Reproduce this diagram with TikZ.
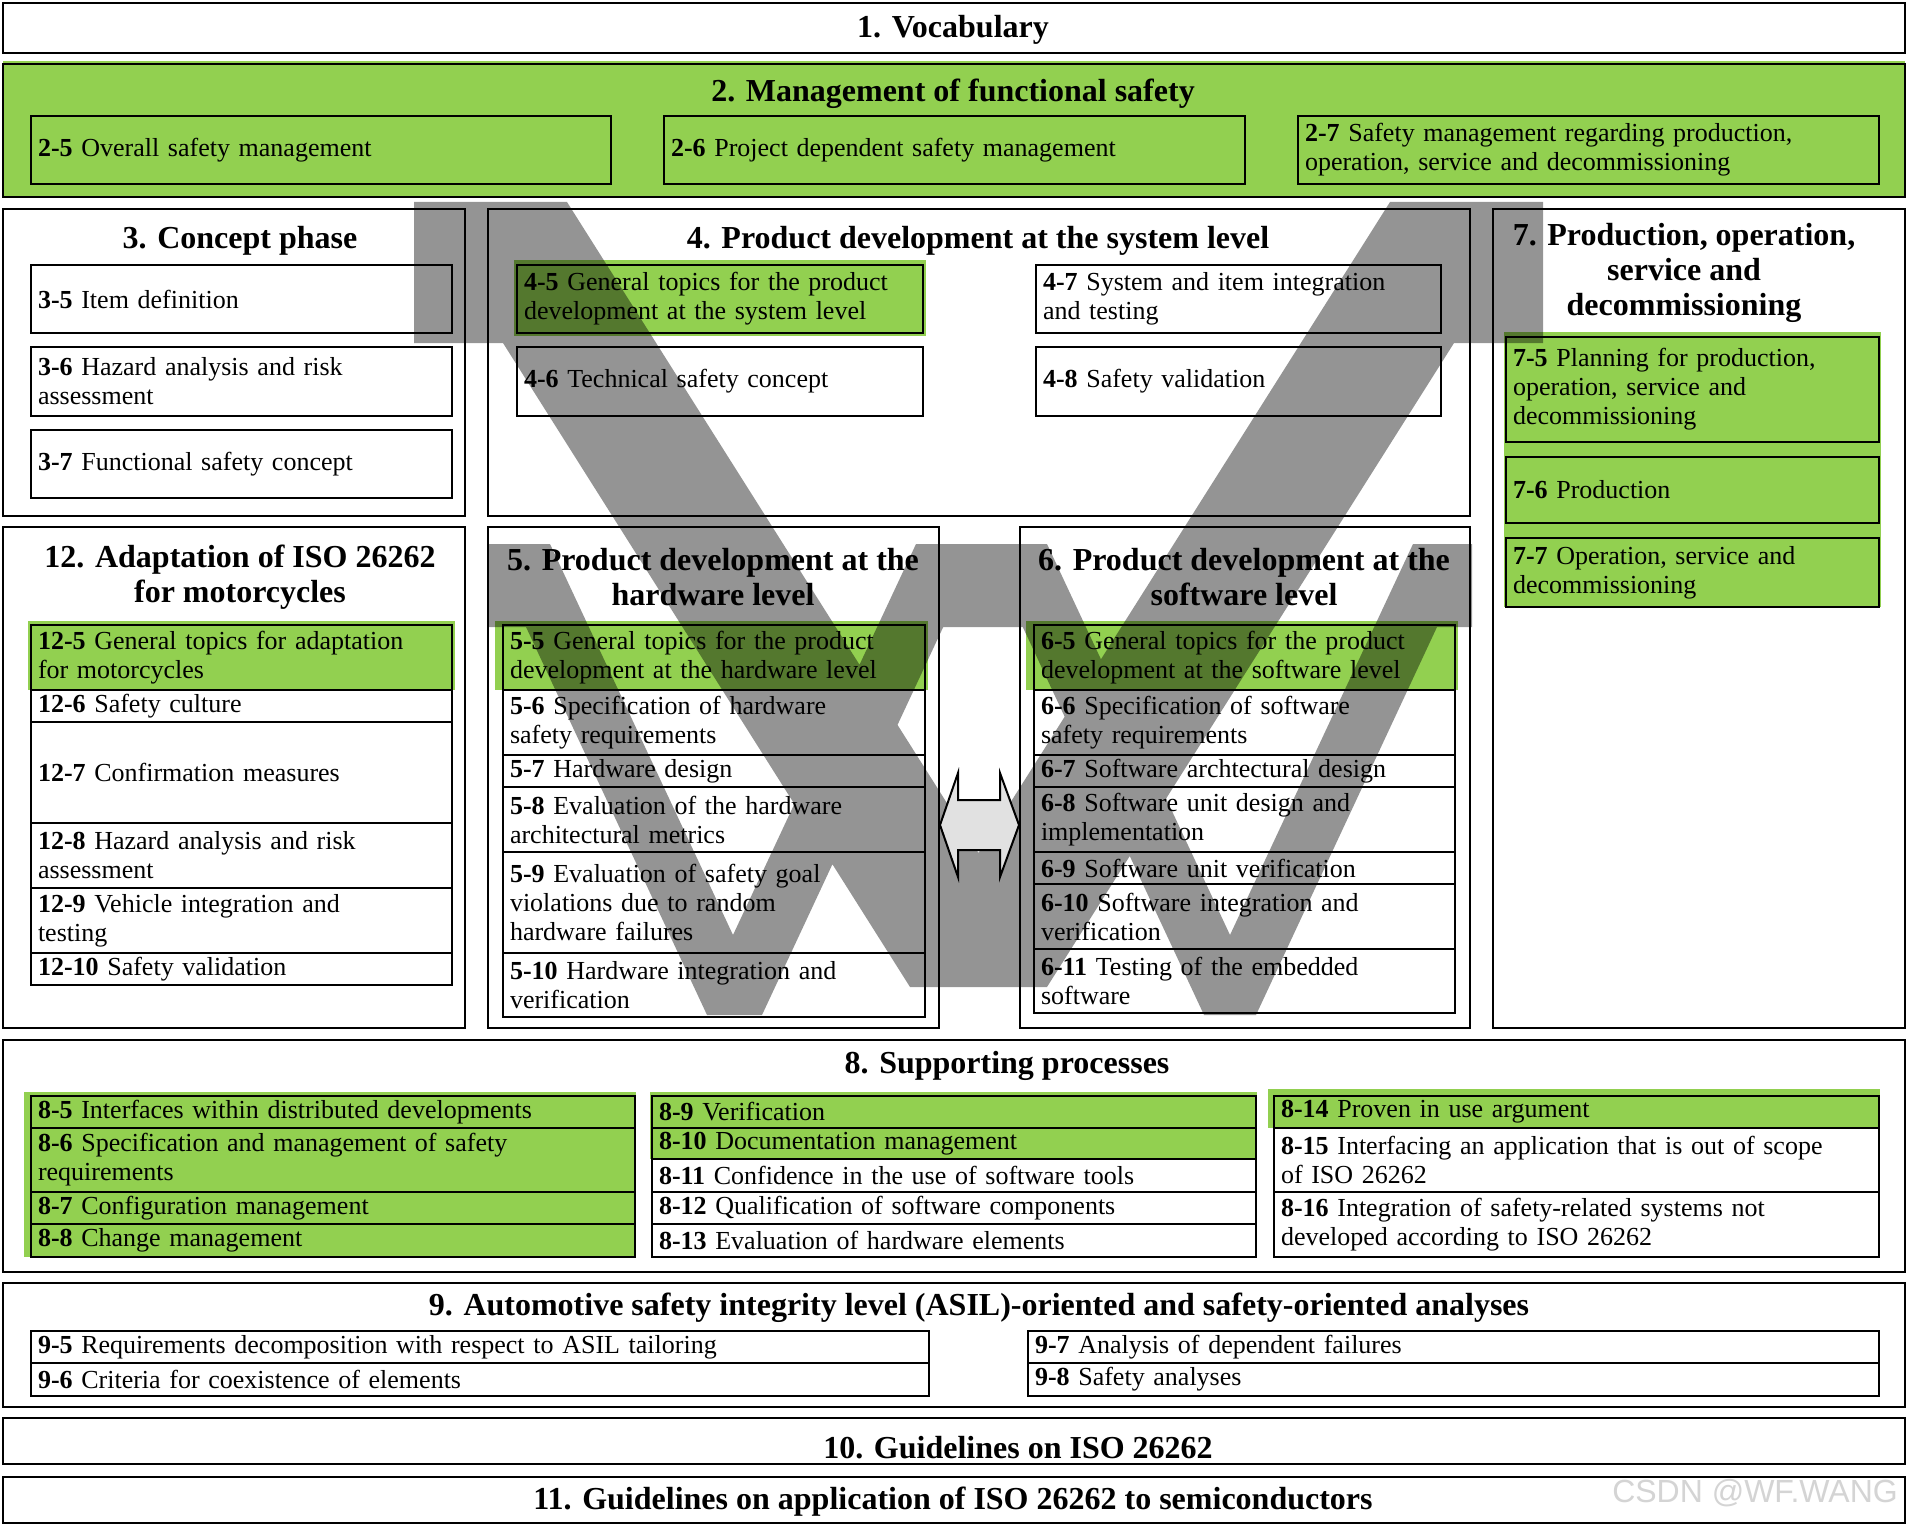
\documentclass[tikz,border=0pt]{standalone}
\usepackage{fontspec}
\setmainfont{Liberation Serif}
\setsansfont{Liberation Sans}
\definecolor{vgreen}{RGB}{146,208,80}
\definecolor{arrowfill}{RGB}{225,225,225}
\definecolor{wmark}{RGB}{212,212,212}
\newcommand\subfont{\fontsize{26}{29}\selectfont}
\newcommand\ttlfont{\fontsize{32}{35}\selectfont\bfseries}
\tikzset{
  sect/.style={draw, line width=2.2pt, inner sep=0pt},
  subbox/.style={draw, line width=2.2pt, inner xsep=7pt, inner ysep=0pt, align=left, font=\subfont, anchor=center},
  gbox/.style={subbox, fill=vgreen},
  wbox/.style={subbox, fill=white},
  ttl/.style={font=\ttlfont, align=center, inner sep=0pt},
  glow/.style={fill=vgreen},
  vshade/.style={fill=black, fill opacity=0.42},
  dblarrow/.style={draw, line width=2pt, fill=arrowfill, line join=miter},
}
\newcommand\mkbox[7]{%
  \pgfmathsetmacro\mkbw{#4-#2}%
  \pgfmathsetmacro\mkbh{#5-#3}%
  \pgfmathsetmacro\mkbx{(#2+#4)/2}%
  \pgfmathsetmacro\mkby{(#3+#5)/2}%
  \pgfmathsetmacro\mktw{#4-#2-14}%
  \node[#6, minimum width=\mkbw pt, minimum height=\mkbh pt, text width=\mktw pt] (#1) at (\mkbx,\mkby) {#7};}
\newcommand\mksect[6]{%
  \pgfmathsetmacro\mkbw{#4-#2}%
  \pgfmathsetmacro\mkbh{#5-#3}%
  \pgfmathsetmacro\mkbx{(#2+#4)/2}%
  \pgfmathsetmacro\mkby{(#3+#5)/2}%
  \node[sect, #6, minimum width=\mkbw pt, minimum height=\mkbh pt] (#1) at (\mkbx,\mkby) {};}
\begin{document}
\begin{tikzpicture}[x=1pt, y=-1pt]
\useasboundingbox (0,0) rectangle (1908,1525);
\fill[white] (0,0) rectangle (1908,1525);

% ---------- sections ----------
\mksect{s1}{3}{3}{1905}{53}{fill=white}
\fill[glow] (3,61) rectangle (1905,196);
\mksect{s2}{3}{64}{1905}{197}{fill=vgreen}
\mksect{s3}{3}{209}{465}{516}{fill=white}
\mksect{s4}{488}{209}{1470}{516}{fill=white}
\mksect{s7}{1493}{209}{1905}{1028}{fill=white}
\mksect{s12}{3}{527}{465}{1028}{fill=white}
\mksect{s5}{488}{527}{939}{1028}{fill=white}
\mksect{s6}{1020}{527}{1470}{1028}{fill=white}
\mksect{s8}{3}{1040}{1905}{1272}{fill=white}
\mksect{s9}{3}{1283}{1905}{1407}{fill=white}
\mksect{s10}{3}{1418}{1905}{1464}{fill=white}
\mksect{s11}{3}{1477}{1905}{1523}{fill=white}

% ---------- green glows ----------
\fill[glow] (514,260) rectangle (926,336);
\fill[glow] (28,621) rectangle (455,690);
\fill[glow] (495,621) rectangle (928,690);
\fill[glow] (1026,621) rectangle (1458,690);
\fill[glow] (1504,332) rectangle (1881,607);
\fill[glow] (24,1092) rectangle (636,1257);
\fill[glow] (650,1092) rectangle (1257,1159);
\fill[glow] (1268,1089) rectangle (1880,1128);

% ---------- titles ----------
\node[ttl] (t1) at (953,30) {1. Vocabulary};
\node[ttl] (t2) at (953,94) {2. Management of functional safety};
\node[ttl] (t3) at (240,241) {3. Concept phase};
\node[ttl] (t4) at (978,241) {4. Product development at the system level};
\node[ttl] (t7) at (1684,273) {7. Production, operation,\\service and\\decommissioning};
\node[ttl] (t12) at (240,577) {12. Adaptation of ISO 26262\\for motorcycles};
\node[ttl] (t5) at (713,577) {5. Product development at the\\hardware level};
\node[ttl] (t6) at (1244,577) {6. Product development at the\\software level};
\node[ttl] (t8) at (1007,1066) {8. Supporting processes};
\node[ttl] (t9) at (979,1308) {9. Automotive safety integrity level (ASIL)-oriented and safety-oriented analyses};
\node[ttl] (t10) at (1018,1448) {10. Guidelines on ISO 26262};
\node[ttl] (t11) at (953,1502) {11. Guidelines on application of ISO 26262 to semiconductors};

% ---------- part 2 ----------
\mkbox{b25}{31}{116}{611}{184}{gbox}{\textbf{2-5} Overall safety management}
\mkbox{b26}{664}{116}{1245}{184}{gbox}{\textbf{2-6} Project dependent safety management}
\mkbox{b27}{1298}{116}{1879}{184}{gbox}{\textbf{2-7} Safety management regarding production,\\operation, service and decommissioning}

% ---------- part 3 ----------
\mkbox{b35}{31}{265}{452}{333}{wbox}{\textbf{3-5} Item definition}
\mkbox{b36}{31}{347}{452}{416}{wbox}{\textbf{3-6} Hazard analysis and risk\\assessment}
\mkbox{b37}{31}{430}{452}{498}{wbox}{\textbf{3-7} Functional safety concept}

% ---------- part 4 ----------
\mkbox{b45}{517}{265}{923}{333}{gbox}{\textbf{4-5} General topics for the product\\development at the system level}
\mkbox{b46}{517}{347}{923}{416}{wbox}{\textbf{4-6} Technical safety concept}
\mkbox{b47}{1036}{265}{1441}{333}{wbox}{\textbf{4-7} System and item integration\\and testing}
\mkbox{b48}{1036}{347}{1441}{416}{wbox}{\textbf{4-8} Safety validation}

% ---------- part 7 ----------
\mkbox{b75}{1506}{337}{1879}{442}{gbox}{\textbf{7-5} Planning for production,\\operation, service and\\decommissioning}
\mkbox{b76}{1506}{457}{1879}{523}{gbox}{\textbf{7-6} Production}
\mkbox{b77}{1506}{538}{1879}{607}{gbox}{\textbf{7-7} Operation, service and\\decommissioning}

% ---------- part 12 ----------
\mkbox{b125}{31}{625}{452}{690}{gbox}{\textbf{12-5} General topics for adaptation\\for motorcycles}
\mkbox{b126}{31}{690}{452}{722}{wbox}{\textbf{12-6} Safety culture}
\mkbox{b127}{31}{722}{452}{823}{wbox}{\textbf{12-7} Confirmation measures}
\mkbox{b128}{31}{823}{452}{888}{wbox}{\textbf{12-8} Hazard analysis and risk\\assessment}
\mkbox{b129}{31}{888}{452}{953}{wbox}{\textbf{12-9} Vehicle integration and\\testing}
\mkbox{b1210}{31}{953}{452}{985}{wbox}{\textbf{12-10} Safety validation}

% ---------- part 5 ----------
\mkbox{b55}{503}{625}{925}{690}{gbox}{\textbf{5-5} General topics for the product\\development at the hardware level}
\mkbox{b56}{503}{690}{925}{755}{wbox}{\textbf{5-6} Specification of hardware\\safety requirements}
\mkbox{b57}{503}{755}{925}{787}{wbox}{\textbf{5-7} Hardware design}
\mkbox{b58}{503}{787}{925}{852}{wbox}{\textbf{5-8} Evaluation of the hardware\\architectural metrics}
\mkbox{b59}{503}{852}{925}{953}{wbox}{\textbf{5-9} Evaluation of safety goal\\violations due to random\\hardware failures}
\mkbox{b510}{503}{953}{925}{1017}{wbox}{\textbf{5-10} Hardware integration and\\verification}

% ---------- part 6 ----------
\mkbox{b65}{1034}{625}{1455}{690}{gbox}{\textbf{6-5} General topics for the product\\development at the software level}
\mkbox{b66}{1034}{690}{1455}{755}{wbox}{\textbf{6-6} Specification of software\\safety requirements}
\mkbox{b67}{1034}{755}{1455}{787}{wbox}{\textbf{6-7} Software archtectural design}
\mkbox{b68}{1034}{787}{1455}{852}{wbox}{\textbf{6-8} Software unit design and\\implementation}
\mkbox{b69}{1034}{852}{1455}{884}{wbox}{\textbf{6-9} Software unit verification}
\mkbox{b610}{1034}{884}{1455}{949}{wbox}{\textbf{6-10} Software integration and\\verification}
\mkbox{b611}{1034}{949}{1455}{1013}{wbox}{\textbf{6-11} Testing of the embedded\\software}

% ---------- part 8 ----------
\mkbox{b85}{31}{1096}{635}{1128}{gbox}{\textbf{8-5} Interfaces within distributed developments}
\mkbox{b86}{31}{1128}{635}{1192}{gbox}{\textbf{8-6} Specification and management of safety\\requirements}
\mkbox{b87}{31}{1192}{635}{1224}{gbox}{\textbf{8-7} Configuration management}
\mkbox{b88}{31}{1224}{635}{1257}{gbox}{\textbf{8-8} Change management}
\mkbox{b89}{652}{1096}{1256}{1128}{gbox}{\textbf{8-9} Verification}
\mkbox{b810}{652}{1128}{1256}{1159}{gbox}{\textbf{8-10} Documentation management}
\mkbox{b811}{652}{1159}{1256}{1192}{wbox}{\textbf{8-11} Confidence in the use of software tools}
\mkbox{b812}{652}{1192}{1256}{1224}{wbox}{\textbf{8-12} Qualification of software components}
\mkbox{b813}{652}{1224}{1256}{1257}{wbox}{\textbf{8-13} Evaluation of hardware elements}
\mkbox{b814}{1274}{1096}{1879}{1128}{gbox}{\textbf{8-14} Proven in use argument}
\mkbox{b815}{1274}{1128}{1879}{1192}{wbox}{\textbf{8-15} Interfacing an application that is out of scope\\of ISO 26262}
\mkbox{b816}{1274}{1192}{1879}{1257}{wbox}{\textbf{8-16} Integration of safety-related systems not\\developed according to ISO 26262}

% ---------- part 9 ----------
\mkbox{b95}{31}{1331}{929}{1363}{wbox}{\textbf{9-5} Requirements decomposition with respect to ASIL tailoring}
\mkbox{b96}{31}{1363}{929}{1396}{wbox}{\textbf{9-6} Criteria for coexistence of elements}
\mkbox{b97}{1028}{1331}{1879}{1363}{wbox}{\textbf{9-7} Analysis of dependent failures}
\mkbox{b98}{1028}{1363}{1879}{1396}{wbox}{\textbf{9-8} Safety analyses}

% ---------- V overlay ----------
\fill[vshade]
  (414,202) -- (567,202) -- (978.5,853) -- (1390,202) -- (1543,202) -- (1543,343) -- (1454,343) -- (1047,987) -- (910,987) -- (503,343) -- (414,343) -- cycle
  (487,544) -- (550,544) -- (733,935) -- (916,544) -- (982,544) -- (762,1015) -- (707,1015) -- (526,627) -- (487,627) -- cycle
  (930,544) -- (1030,544) -- (1030,627) -- (930,627) -- cycle
  (984,544) -- (1047,544) -- (1230,935) -- (1413,544) -- (1472,544) -- (1472,627) -- (1437,627) -- (1256,1015) -- (1204,1015) -- cycle;

% ---------- double arrow ----------
\draw[dblarrow] (940,825) -- (958,773) -- (958,800) -- (1000,800) -- (1000,773) -- (1019,825) -- (1000,877) -- (1000,850) -- (958,850) -- (958,877) -- cycle;

% ---------- watermark ----------
\node[font=\sffamily\fontsize{32}{32}\selectfont, text=wmark, inner sep=0pt] (wm) at (1755,1493) {CSDN @WF.WANG};
\end{tikzpicture}
\end{document}
